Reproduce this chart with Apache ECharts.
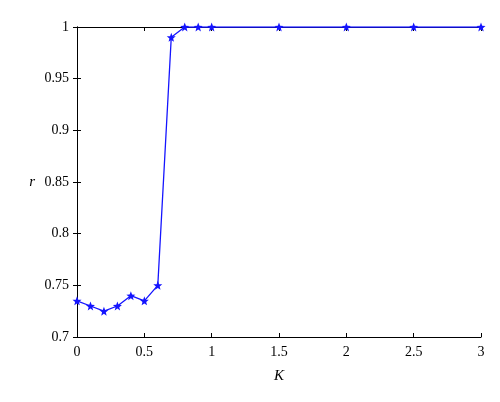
<!DOCTYPE html>
<html><head><meta charset="utf-8">
<script src="https://cdn.jsdelivr.net/npm/echarts@6/dist/echarts.min.js"></script>
<style>html,body{margin:0;padding:0;background:#fff}#c{width:500px;height:402px}</style>
</head><body><div id="c"></div>
<script>
const kValues = [0, 0.1, 0.2, 0.3, 0.4, 0.5, 0.6, 0.7, 0.8, 0.9, 1, 1.5, 2, 2.5, 3];
const rValues = [0.735, 0.73, 0.725, 0.73, 0.74, 0.735, 0.75, 0.99, 1, 1, 1, 1, 1, 1, 1];
const xLabel = 'K';
const yLabel = 'r';

const font = 'Liberation Serif';
const axisCommon = {
  axisLine: {show: true, lineStyle: {color: '#000', width: 1}},
  axisTick: {show: true, inside: true, length: 4, lineStyle: {color: '#000'}},
  splitLine: {show: false}
};
const chart = echarts.init(document.getElementById('c'), null, {renderer: 'canvas'});
chart.setOption({
  animation: false,
  textStyle: {fontFamily: font},
  grid: {left: 77, right: 19, top: 27, bottom: 65, containLabel: false},
  xAxis: [
    Object.assign({type: 'value', min: 0, max: 3, interval: 0.5, position: 'bottom',
      axisLabel: {color: '#000', fontFamily: font, fontSize: 14, margin: 8},
      name: xLabel, nameLocation: 'middle', nameGap: 32,
      nameTextStyle: {color: '#000', fontFamily: font, fontSize: 15, fontStyle: 'italic'}}, axisCommon),
    Object.assign({type: 'value', min: 0, max: 3, interval: 0.5, position: 'top',
      axisLabel: {show: false}}, axisCommon)
  ],
  yAxis: [
    Object.assign({type: 'value', min: 0.7, max: 1, interval: 0.05, position: 'left',
      axisLabel: {color: '#000', fontFamily: font, fontSize: 14, margin: 8,
        formatter: v => String(Math.round(v * 100) / 100)},
      name: yLabel, nameLocation: 'middle', nameGap: 42, nameRotate: 0,
      nameTextStyle: {color: '#000', fontFamily: font, fontSize: 15, fontStyle: 'italic'}}, axisCommon),
    Object.assign({type: 'value', min: 0.7, max: 1, interval: 0.05, position: 'right',
      axisLabel: {show: false}}, axisCommon)
  ],
  series: [{
    type: 'line',
    data: kValues.map((k, i) => [k, rValues[i]]),
    xAxisIndex: 0, yAxisIndex: 0,
    symbol: 'path://M0,-5 L1.3,-1.7 L4.8,-1.5 L2,0.7 L2.9,4 L0,2.1 L-2.9,4 L-2,0.7 L-4.8,-1.5 L-1.3,-1.7 Z',
    symbolSize: 9,
    itemStyle: {color: '#1414ff'},
    lineStyle: {color: '#1414ff', width: 1.3}
  }]
});
</script></body></html>
